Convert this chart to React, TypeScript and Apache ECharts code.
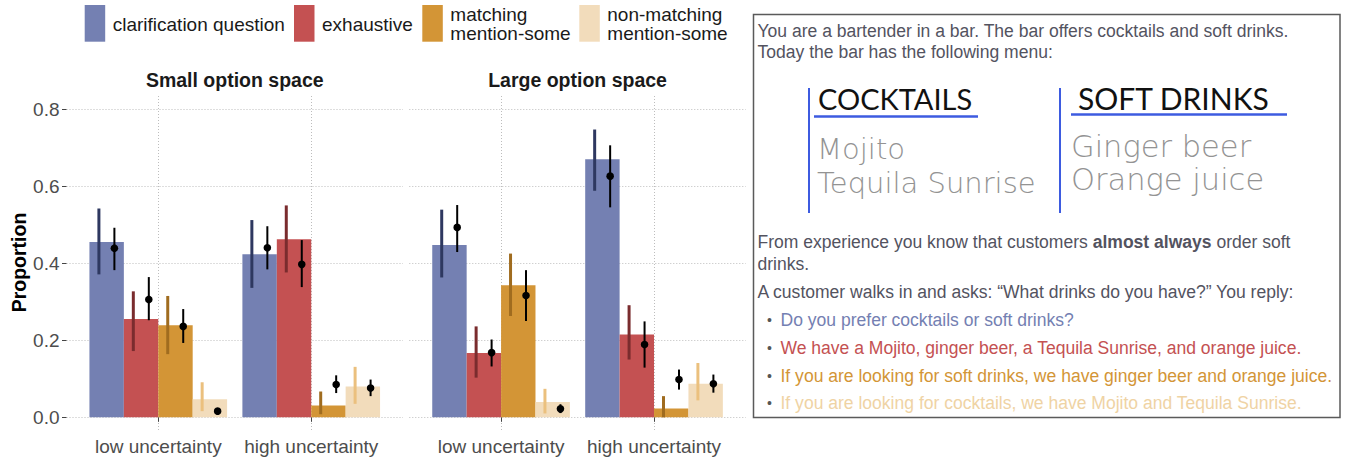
import React, { useEffect, useRef } from "react";
import * as echarts from "echarts";

// ---------- data ----------
const panelTitles = ["Small option space", "Large option space"];
const conditions = ["low uncertainty", "high uncertainty"];
const responseTypes = ["clarification question", "exhaustive", "matching\nmention-some", "non-matching\nmention-some"];
const yTicks = [0, 0.2, 0.4, 0.6, 0.8];

// rows: response type, columns: condition (low, high)
const smallObs = [[0.455, 0.423], [0.255, 0.462], [0.239, 0.031], [0.047, 0.080]];
const smallObsLo = [[0.371, 0.336], [0.172, 0.376], [0.164, 0.008], [0.016, 0.035]];
const smallObsHi = [[0.542, 0.512], [0.327, 0.550], [0.315, 0.067], [0.091, 0.131]];
const smallModel = [[0.439, 0.440], [0.306, 0.397], [0.236, 0.085], [0.016, 0.076]];
const smallModelLo = [[0.382, 0.384], [0.252, 0.338], [0.193, 0.063], [0.011, 0.055]];
const smallModelHi = [[0.492, 0.496], [0.364, 0.460], [0.281, 0.109], [0.022, 0.098]];

const largeObs = [[0.447, 0.670], [0.167, 0.215], [0.343, 0.023], [0.040, 0.087]];
const largeObsLo = [[0.363, 0.588], [0.103, 0.150], [0.263, 0.000], [0.010, 0.044]];
const largeObsHi = [[0.539, 0.747], [0.236, 0.291], [0.425, 0.055], [0.074, 0.141]];
const largeModel = [[0.493, 0.626], [0.168, 0.189], [0.316, 0.098], [0.022, 0.087]];
const largeModelLo = [[0.429, 0.545], [0.132, 0.129], [0.250, 0.072], [0.011, 0.064]];
const largeModelHi = [[0.551, 0.706], [0.202, 0.249], [0.382, 0.124], [0.034, 0.111]];

const barColors = ["#7480B2", "#C45152", "#D39536", "#F2DCBB"];
const ciColors = ["#2E3860", "#7A2C2E", "#A06C1F", "#EBC07E"];
const textColors = ["#7480B2", "#C45152", "#D39536", "#EFD3A4"];

const introLines = [
  "You are a bartender in a bar. The bar offers cocktails and soft drinks.",
  "Today the bar has the following menu:",
];
const menuHeads = ["COCKTAILS", "SOFT DRINKS"];
const cocktails = ["Mojito", "Tequila Sunrise"];
const softDrinks = ["Ginger beer", "Orange juice"];
const contextLines = [
  "From experience you know that customers {b|almost always} order soft",
  "drinks.",
  "A customer walks in and asks: \u201CWhat drinks do you have?\u201D You reply:",
];
const replies = [
  "Do you prefer cocktails or soft drinks?",
  "We have a Mojito, ginger beer, a Tequila Sunrise, and orange juice.",
  "If you are looking for soft drinks, we have ginger beer and orange juice.",
  "If you are looking for cocktails, we have Mojito and Tequila Sunrise.",
];

const panelData = [
  [smallObs, smallObsLo, smallObsHi, smallModel, smallModelLo, smallModelHi],
  [largeObs, largeObsLo, largeObsHi, largeModel, largeModelLo, largeModelHi],
];

const FONT = "'Liberation Sans', Arial, Helvetica, sans-serif";
const HAND = "Lato, 'Open Sans', sans-serif";
const HAND_THIN = "'DejaVu Sans', sans-serif";

export default function App() {
  const ref = useRef<HTMLDivElement>(null);
  useEffect(() => {
    if (!ref.current) return;
    const chart = echarts.init(ref.current, undefined, { renderer: "svg" });

    const grids = [
      { left: 66.5, top: 96, width: 336.5, height: 335 },
      { left: 409.3, top: 96, width: 336.5, height: 335 },
    ];
    const dotted = { color: "#BDBDBD", type: [1, 2] as any, width: 1 };

    const xAxes = grids.map((_, i) => ({
      type: "value",
      gridIndex: i,
      min: 0.4,
      max: 2.6,
      axisLine: { show: false },
      axisTick: { show: true, length: 4.5, customValues: [1, 2], lineStyle: { color: "#444", width: 1 } },
      axisLabel: {
        customValues: [1, 2],
        formatter: (v: number) => conditions[Math.round(v) - 1] || "",
        color: "#4D4D4D",
        fontSize: 19,
        fontFamily: FONT,
        margin: 6,
      },
      splitLine: { show: true, lineStyle: dotted },
    }));
    const yAxes = grids.map((_, i) => ({
      type: "value",
      gridIndex: i,
      min: -0.0355,
      max: 0.834,
      axisLine: { show: false },
      axisTick: { show: i === 0, length: 4.5, customValues: yTicks, lineStyle: { color: "#444", width: 1 } },
      axisLabel: {
        show: i === 0,
        customValues: yTicks,
        formatter: (v: number) => v.toFixed(1),
        color: "#4D4D4D",
        fontSize: 19,
        fontFamily: FONT,
        margin: 7,
      },
      splitLine: { show: true, lineStyle: dotted },
    }));

    const dodge = 0.9 / responseTypes.length;
    const series: any[] = [];
    panelData.forEach((arrs, p) => {
      const [obs, lo, hi, mod, mlo, mhi] = arrs;
      responseTypes.forEach((name, k) => {
        series.push({
          type: "custom",
          name,
          xAxisIndex: p,
          yAxisIndex: p,
          clip: false,
          itemStyle: { color: barColors[k] },
          encode: { x: 0, y: [1, 2, 3, 4, 5, 6] },
          data: conditions.map((_, j) => [j + 1, obs[k][j], lo[k][j], hi[k][j], mod[k][j], mlo[k][j], mhi[k][j]]),
          renderItem: (params: any, api: any) => {
            const xc = api.value(0) - 0.45 + dodge * (k + 0.5);
            const base = api.coord([xc, 0]);
            const top = api.coord([xc, api.value(1)]);
            const w = api.size([dodge, 0])[0];
            const xl = base[0] - 0.225 * w;
            const xr = base[0] + 0.225 * w;
            const y = (v: number) => api.coord([xc, v])[1];
            return {
              type: "group",
              children: [
                {
                  type: "rect",
                  shape: { x: base[0] - w / 2, y: top[1], width: w, height: base[1] - top[1] },
                  style: { fill: barColors[k] },
                },
                {
                  type: "line",
                  shape: { x1: xl, y1: y(api.value(2)), x2: xl, y2: y(api.value(3)) },
                  style: { stroke: ciColors[k], lineWidth: 3 },
                },
                {
                  type: "line",
                  shape: { x1: xr, y1: y(api.value(5)), x2: xr, y2: y(api.value(6)) },
                  style: { stroke: "#000", lineWidth: 2 },
                },
                {
                  type: "circle",
                  shape: { cx: xr, cy: y(api.value(4)), r: 3.8 },
                  style: { fill: "#000" },
                },
              ],
            };
          },
        });
      });
    });

    const graphics: any[] = [];
    // y-axis title
    graphics.push({
      type: "text",
      x: 18.5,
      y: 262.5,
      rotation: Math.PI / 2,
      style: { text: "Proportion", fontSize: 19.5, fontWeight: "bold", fontFamily: FONT, fill: "#000", align: "center", verticalAlign: "middle" },
    });
    // panel titles
    panelTitles.forEach((t, i) => {
      graphics.push({
        type: "text",
        x: grids[i].left + grids[i].width / 2,
        y: 80,
        style: { text: t, fontSize: 19.5, fontWeight: "bold", fontFamily: FONT, fill: "#1A1A1A", align: "center", verticalAlign: "middle" },
      });
    });
    // legend
    const keyX = [84.7, 294, 422.3, 579.3];
    responseTypes.forEach((t, k) => {
      graphics.push({
        type: "rect",
        shape: { x: keyX[k], y: 5, width: 20.5, height: 36.7 },
        style: { fill: barColors[k] },
      });
      graphics.push({
        type: "text",
        x: keyX[k] + 28,
        y: t.includes("\n") ? 24.2 : 24.5,
        style: { text: t, fontSize: 19, fontFamily: FONT, fill: "#1A1A1A", align: "left", verticalAlign: "middle", lineHeight: 18.5 },
      });
    });

    // right text box
    const tx = 757.5;
    const fs = 17.55;
    const grey = "#53535F";
    graphics.push({
      type: "rect",
      shape: { x: 753.5, y: 14.5, width: 586.5, height: 403 },
      style: { fill: "none", stroke: "#5A5A5A", lineWidth: 1.5 },
    });
    introLines.forEach((t, i) => {
      graphics.push({
        type: "text",
        x: tx,
        y: 31 + i * 20.5,
        style: { text: t, fontSize: fs, fontFamily: FONT, fill: grey, verticalAlign: "middle" },
      });
    });
    // menu drawing
    const blue = "#3D5BE0";
    [809, 1060].forEach((lx) => {
      graphics.push({ type: "line", shape: { x1: lx, y1: 88, x2: lx, y2: 213 }, style: { stroke: blue, lineWidth: 2 } });
    });
    graphics.push({ type: "line", shape: { x1: 814, y1: 116.5, x2: 978, y2: 116.5 }, style: { stroke: blue, lineWidth: 2.5 } });
    graphics.push({ type: "line", shape: { x1: 1071, y1: 114.5, x2: 1287, y2: 114.5 }, style: { stroke: blue, lineWidth: 2.5 } });
    graphics.push({
      type: "text", x: 818, y: 98,
      style: { text: menuHeads[0], fontSize: 29, fontFamily: HAND, fill: "#111", verticalAlign: "middle" },
    });
    graphics.push({
      type: "text", x: 1078, y: 98,
      style: { text: menuHeads[1], fontSize: 30, fontFamily: HAND, fill: "#111", verticalAlign: "middle" },
    });
    cocktails.forEach((t, i) => {
      graphics.push({
        type: "text", x: 817, y: 149 + i * 34,
        style: { text: t, fontSize: 29, fontFamily: HAND_THIN, fontWeight: 200, fill: "#939393", verticalAlign: "middle" },
      });
    });
    softDrinks.forEach((t, i) => {
      graphics.push({
        type: "text", x: 1071, y: 146 + i * 33,
        style: { text: t, fontSize: 30.5, fontFamily: HAND_THIN, fontWeight: 200, fill: "#939393", verticalAlign: "middle" },
      });
    });
    const ctxY = [242, 264, 292];
    contextLines.forEach((t, i) => {
      graphics.push({
        type: "text",
        x: tx,
        y: ctxY[i],
        style: {
          text: t, fontSize: fs, fontFamily: FONT, fill: grey, verticalAlign: "middle",
          rich: { b: { fontSize: fs, fontFamily: FONT, fill: grey, fontWeight: "bold" } },
        },
      });
    });
    const repY = [320, 347.8, 375.6, 403.4];
    replies.forEach((t, k) => {
      graphics.push({
        type: "text", x: 767, y: repY[k],
        style: { text: "\u2022", fontSize: 14, fontFamily: FONT, fill: "#555", verticalAlign: "middle" },
      });
      graphics.push({
        type: "text", x: 780.5, y: repY[k],
        style: { text: t, fontSize: fs, fontFamily: FONT, fill: textColors[k], verticalAlign: "middle" },
      });
    });

    chart.setOption({
      animation: false,
      backgroundColor: "#FFFFFF",
      grid: grids,
      xAxis: xAxes,
      yAxis: yAxes,
      series,
      graphic: graphics,
    });
    return () => chart.dispose();
  }, []);
  return <div ref={ref} style={{ position: "fixed", left: 0, top: 0, width: 1345, height: 458 }} />;
}
